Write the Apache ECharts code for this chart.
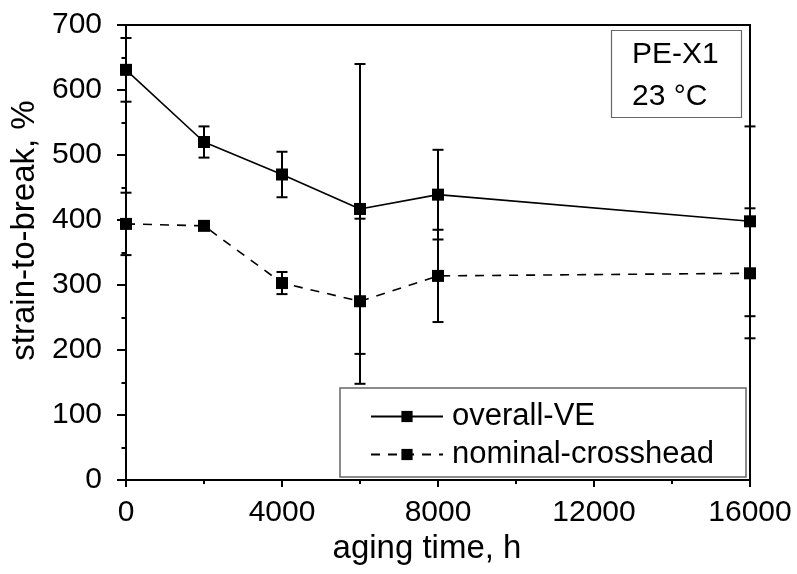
<!DOCTYPE html>
<html>
<head>
<meta charset="utf-8">
<script src="https://cdn.jsdelivr.net/npm/echarts@6/dist/echarts.min.js"></script>
<style>html,body{margin:0;padding:0;background:#fff}#c{width:797px;height:574px}</style>
</head>
<body>
<div id="c"></div>
<script>
const times = [0, 2000, 4000, 6000, 8000, 16000];
const overallVE = [631, 520, 470, 417, 439, 398];
const overallErr = [49, 24, 35, 223, 69, 146];
const nominalCH = [394, 391, 303, 275, 314, 318];
const nominalErr = [48, 5, 17, 127, 71, 100];
const xTicks = [0, 4000, 8000, 12000, 16000];
const yTicks = [0, 100, 200, 300, 400, 500, 600, 700];
const seriesNames = ['overall-VE', 'nominal-crosshead'];
const boxLines = ['PE-X1', '23 °C'];

const FONT = '"Liberation Sans", Arial, Helvetica, sans-serif';
const FS = 30;
const FS_NAME = 33;
const FS_LEG = 31;

function pts(vals) { return times.map((t, i) => [t, vals[i]]); }
function errs(vals, e) { return times.map((t, i) => [t, vals[i] - e[i], vals[i] + e[i]]); }

function errRender(params, api) {
  const x = api.value(0);
  const lo = api.coord([x, api.value(1)]);
  const hi = api.coord([x, api.value(2)]);
  const hw = 5.5;
  const st = { stroke: '#000', lineWidth: 2 };
  return {
    type: 'group',
    children: [
      { type: 'line', shape: { x1: lo[0], y1: lo[1], x2: hi[0], y2: hi[1] }, style: st },
      { type: 'line', shape: { x1: lo[0] - hw, y1: lo[1], x2: lo[0] + hw, y2: lo[1] }, style: st },
      { type: 'line', shape: { x1: hi[0] - hw, y1: hi[1], x2: hi[0] + hw, y2: hi[1] }, style: st }
    ]
  };
}

const chart = echarts.init(document.getElementById('c'), null, { renderer: 'canvas' });
chart.setOption({
  animation: false,
  backgroundColor: '#fff',
  textStyle: { fontFamily: FONT },
  grid: { left: 126, right: 47, top: 25, bottom: 94, show: true, borderColor: '#000', borderWidth: 2, backgroundColor: 'transparent' },
  xAxis: {
    type: 'value',
    min: xTicks[0], max: xTicks[xTicks.length - 1], interval: xTicks[1] - xTicks[0],
    name: 'aging time, h', nameLocation: 'middle', nameGap: 51,
    nameTextStyle: { fontSize: FS_NAME, color: '#000', fontFamily: FONT, lineHeight: 33, padding: [0, 22, 0, 0] },
    axisLine: { lineStyle: { color: '#000', width: 2 } },
    axisTick: { inside: false, length: 7, lineStyle: { color: '#000', width: 2 } },
    minorTick: { show: true, splitNumber: 2, length: 4, lineStyle: { color: '#000', width: 2 } },
    splitLine: { show: false },
    axisLabel: { fontSize: FS, color: '#000', fontFamily: FONT, margin: 18, formatter: v => String(v), lineHeight: 30 }
  },
  yAxis: {
    type: 'value',
    min: yTicks[0], max: yTicks[yTicks.length - 1], interval: yTicks[1] - yTicks[0],
    name: 'strain-to-break, %', nameLocation: 'middle', nameGap: 68, nameRotate: 90,
    nameTextStyle: { fontSize: FS_NAME, color: '#000', fontFamily: FONT, lineHeight: 33, padding: [0, 0, 0, 44] },
    axisLine: { lineStyle: { color: '#000', width: 2 } },
    axisTick: { inside: false, length: 9, lineStyle: { color: '#000', width: 2 } },
    minorTick: { show: true, splitNumber: 2, length: 4.5, lineStyle: { color: '#000', width: 2 } },
    splitLine: { show: false },
    axisLabel: { fontSize: FS, color: '#000', fontFamily: FONT, margin: 24, formatter: v => String(v) }
  },
  legend: {
    orient: 'vertical', left: 370, top: 401, itemWidth: 72, itemHeight: 14, itemGap: 7,
    padding: 0, z: 10,
    data: seriesNames,
    textStyle: { fontSize: FS_LEG, color: '#000', fontFamily: FONT, lineHeight: 31, padding: [0, 0, 0, 4] }
  },
  graphic: [
    { type: 'rect', z: 5, shape: { x: 340, y: 388, width: 406, height: 89 }, style: { fill: '#fff', stroke: '#666', lineWidth: 1.5 } },
    { type: 'rect', z: 5, shape: { x: 611.5, y: 30.5, width: 130, height: 87 }, style: { fill: '#fff', stroke: '#666', lineWidth: 1.2 } },
    { type: 'text', z: 6, x: 632, y: 55, style: { text: boxLines[0], fontSize: FS, fontFamily: FONT, fill: '#000', verticalAlign: 'middle' } },
    { type: 'text', z: 6, x: 632, y: 97, style: { text: boxLines[1], fontSize: FS, fontFamily: FONT, fill: '#000', verticalAlign: 'middle' } }
  ],
  series: [
    { type: 'custom', name: 'err1', renderItem: errRender, data: errs(overallVE, overallErr), encode: { x: 0, y: [1, 2] }, z: 3, silent: true },
    { type: 'custom', name: 'err2', renderItem: errRender, data: errs(nominalCH, nominalErr), encode: { x: 0, y: [1, 2] }, z: 3, silent: true },
    {
      type: 'line', name: seriesNames[0], data: pts(overallVE), symbol: 'rect', symbolSize: 12,
      lineStyle: { color: '#000', width: 1.6, type: 'solid' }, itemStyle: { color: '#000' }, z: 4
    },
    {
      type: 'line', name: seriesNames[1], data: pts(nominalCH), symbol: 'rect', symbolSize: 12,
      lineStyle: { color: '#000', width: 1.6, type: [9, 8] }, itemStyle: { color: '#000' }, z: 4
    }
  ]
});
</script>
</body>
</html>
